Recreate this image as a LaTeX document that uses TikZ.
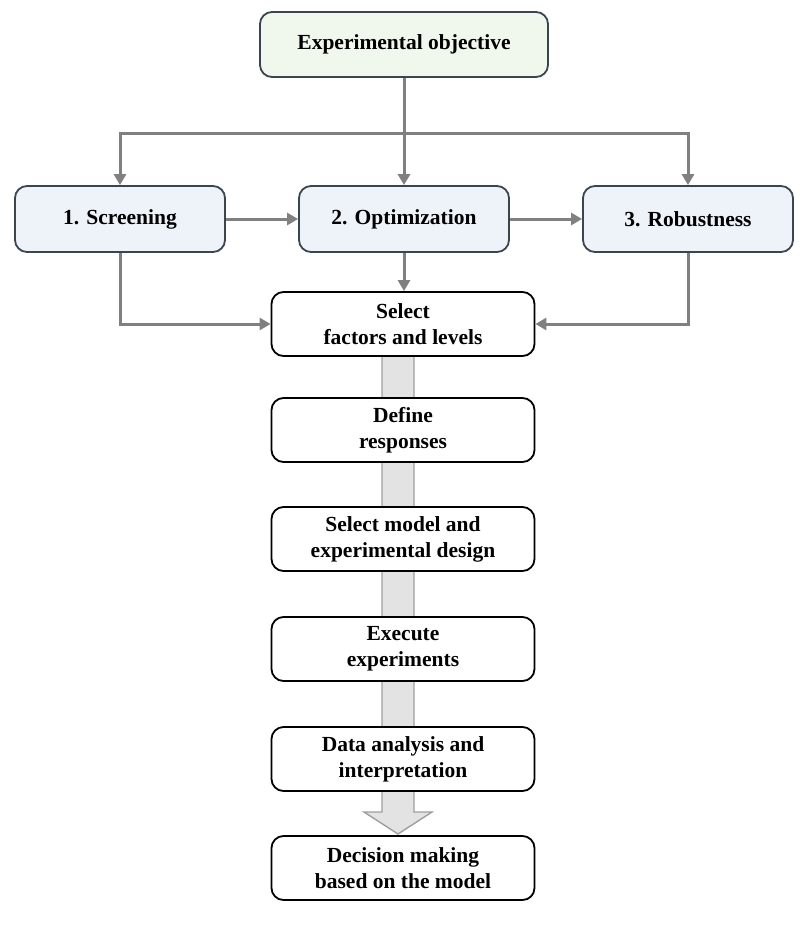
\documentclass[tikz,border=0pt]{standalone}
\usepackage{fontspec}
\setmainfont{Liberation Serif}
\usetikzlibrary{arrows.meta, backgrounds}
\definecolor{objfill}{RGB}{240,247,236}
\definecolor{phasefill}{RGB}{238,243,250}
\definecolor{phaseline}{RGB}{60,68,80}
\definecolor{linkgray}{RGB}{128,128,128}

\begin{document}
\begin{tikzpicture}[x=1pt, y=-1pt,
    box/.style={rectangle, rounded corners=12pt, draw=black, line width=1.8pt, fill=white,
                minimum width=263pt, minimum height=64pt, inner sep=0pt, align=center,
                font=\fontsize{21.5}{26}\selectfont\bfseries},
    phase/.style={box, draw=phaseline, fill=phasefill, minimum width=210pt, minimum height=66pt},
    goal/.style={box, draw=phaseline, fill=objfill, minimum width=288pt, minimum height=65pt},
    link/.style={draw=linkgray, line width=3pt, -{Triangle[length=11pt,width=12pt]}}]

    \useasboundingbox (0,0) rectangle (806,926);

    \node [goal] (obj) at (404 , 44.5) {Experimental objective};
    \node [phase] (scr) at (120 , 219) {1. Screening};
    \node [phase] (opt) at (404 , 219) {2. Optimization};
    \node [phase] (rob) at (688 , 219) {3. Robustness};
    \node [box] (sel) at (403 , 324) {Select\\factors and levels};
    \node [box] (resp) at (403 , 430) {Define\\responses};
    \node [box] (design) at (403 , 539) {Select model and\\experimental design};
    \node [box] (exec) at (403 , 649) {Execute\\experiments};
    \node [box] (anal) at (403 , 759) {Data analysis and\\interpretation};
    \node [box] (dec) at (403 , 868) {Decision making\\based on the model};
    \coordinate (split) at (404 , 133);

    % wide arrow behind the step boxes
    \begin{pgfonlayer}{background}
    \draw [fill=gray!22, draw=gray!75, line width=1.4pt]
      (382 , 356) -- (382 , 812) -- (364 , 812) -- (398 , 834) -- (432 , 812)
      -- (414 , 812) -- (414 , 356) -- cycle;
    \end{pgfonlayer}

    \draw [link] (obj) -- (opt);
    \draw [link] (split) -| (scr.north);
    \draw [link] (split) -| (rob.north);
    \draw [link] (scr) -- (opt);
    \draw [link] (opt) -- (rob);
    \draw [link] (opt.south) -- (opt.south |- sel.north);
    \draw [link] (scr.south) |- (sel.west);
    \draw [link] (rob.south) |- (sel.east);
\end{tikzpicture}
\end{document}
